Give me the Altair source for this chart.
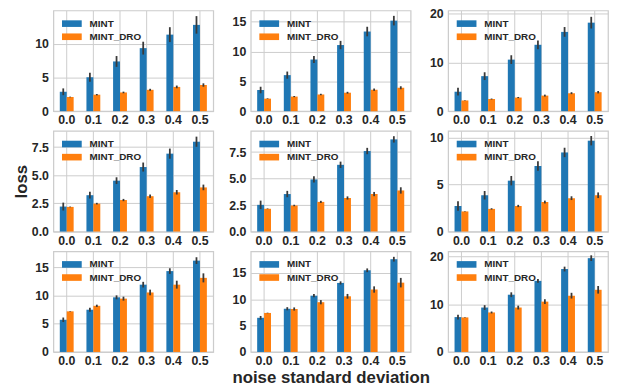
import altair as alt
import pandas as pd

noise = ["0.0", "0.1", "0.2", "0.3", "0.4", "0.5"]
series = ["MINT", "MINT_DRO"]

# panel 1 (row 1, col 1)
p1_mint = [2.87, 5.02, 7.36, 9.33, 11.33, 12.77]
p1_mint_err = [0.5, 0.65, 0.8, 0.95, 1.1, 1.3]
p1_dro = [2.1, 2.44, 2.77, 3.16, 3.59, 3.87]
p1_dro_err = [0.05, 0.1, 0.12, 0.15, 0.2, 0.25]
# panel 2
p2_mint = [3.55, 6.05, 8.67, 11.1, 13.37, 15.2]
p2_mint_err = [0.55, 0.6, 0.6, 0.7, 0.8, 0.8]
p2_dro = [2.1, 2.45, 2.8, 3.1, 3.6, 3.93]
p2_dro_err = [0.05, 0.1, 0.12, 0.15, 0.2, 0.25]
# panel 3
p3_mint = [4.0, 7.2, 10.6, 13.65, 16.3, 18.2]
p3_mint_err = [0.8, 0.8, 0.9, 0.9, 1.0, 1.2]
p3_dro = [2.2, 2.5, 2.8, 3.2, 3.7, 3.9]
p3_dro_err = [0.05, 0.1, 0.12, 0.2, 0.2, 0.25]
# panel 4
p4_mint = [2.22, 3.23, 4.52, 5.73, 6.92, 7.98]
p4_mint_err = [0.35, 0.3, 0.3, 0.4, 0.45, 0.45]
p4_dro = [2.19, 2.48, 2.8, 3.14, 3.49, 3.92]
p4_dro_err = [0.03, 0.07, 0.1, 0.15, 0.2, 0.25]
# panel 5
p5_mint = [2.52, 3.54, 4.92, 6.3, 7.6, 8.7]
p5_mint_err = [0.4, 0.3, 0.3, 0.3, 0.3, 0.3]
p5_dro = [2.15, 2.46, 2.8, 3.17, 3.54, 3.88]
p5_dro_err = [0.03, 0.07, 0.1, 0.15, 0.2, 0.3]
# panel 6
p6_mint = [2.72, 3.86, 5.41, 6.97, 8.41, 9.66]
p6_mint_err = [0.5, 0.45, 0.5, 0.5, 0.5, 0.5]
p6_dro = [2.14, 2.41, 2.72, 3.14, 3.55, 3.86]
p6_dro_err = [0.03, 0.07, 0.12, 0.15, 0.2, 0.3]
# panel 7
p7_mint = [5.69, 7.47, 9.66, 11.9, 14.3, 16.15]
p7_mint_err = [0.4, 0.35, 0.35, 0.5, 0.5, 0.6]
p7_dro = [7.18, 8.16, 9.43, 10.52, 11.9, 13.1]
p7_dro_err = [0.05, 0.2, 0.35, 0.5, 0.7, 0.8]
# panel 8
p8_mint = [6.48, 8.2, 10.68, 13.1, 15.5, 17.6]
p8_mint_err = [0.35, 0.3, 0.3, 0.3, 0.35, 0.45]
p8_dro = [7.4, 8.15, 9.44, 10.56, 11.85, 13.15]
p8_dro_err = [0.05, 0.3, 0.4, 0.45, 0.6, 0.9]
# panel 9
p9_mint = [7.31, 9.31, 12.0, 14.9, 17.38, 19.66]
p9_mint_err = [0.5, 0.5, 0.5, 0.4, 0.5, 0.6]
p9_dro = [7.24, 8.28, 9.31, 10.55, 11.8, 13.03]
p9_dro_err = [0.05, 0.2, 0.4, 0.5, 0.6, 0.8]

panels = [
    (p1_mint, p1_mint_err, p1_dro, p1_dro_err),
    (p2_mint, p2_mint_err, p2_dro, p2_dro_err),
    (p3_mint, p3_mint_err, p3_dro, p3_dro_err),
    (p4_mint, p4_mint_err, p4_dro, p4_dro_err),
    (p5_mint, p5_mint_err, p5_dro, p5_dro_err),
    (p6_mint, p6_mint_err, p6_dro, p6_dro_err),
    (p7_mint, p7_mint_err, p7_dro, p7_dro_err),
    (p8_mint, p8_mint_err, p8_dro, p8_dro_err),
    (p9_mint, p9_mint_err, p9_dro, p9_dro_err),
]

# axis extents and tick values per panel
y_max = [14.9, 16.9, 20.7, 8.94, 9.5, 10.7, 17.8, 19.1, 21.1]
y_ticks = [
    [0, 5, 10], [0, 5, 10, 15], [0, 10, 20],
    [0, 2.5, 5, 7.5], [0, 2.5, 5, 7.5], [0, 5, 10],
    [0, 5, 10, 15], [0, 5, 10, 15], [0, 10, 20],
]
y_fmt = ["d", "d", "d", ".1f", ".1f", "d", "d", "d", "d"]

FONT = "Liberation Sans"
TXT = "#262626"
W, H = 162, 102

color_scale = alt.Scale(domain=series, range=["#1f77b4", "#ff7f0e"])
x_scale = alt.Scale(paddingInner=0.48, paddingOuter=0.24)
legend_symbol = "M-2,-0.67L2,-0.67L2,0.67L-2,0.67Z"

charts = []
for i, (m, me, d, de) in enumerate(panels):
    rows = []
    for j, n in enumerate(noise):
        rows.append({"noise": n, "series": "MINT", "loss": m[j],
                     "lo": m[j] - me[j], "hi": m[j] + me[j]})
        rows.append({"noise": n, "series": "MINT_DRO", "loss": d[j],
                     "lo": d[j] - de[j], "hi": d[j] + de[j]})
    df = pd.DataFrame(rows)

    row, col = divmod(i, 3)
    y_title = "loss" if (row == 1 and col == 0) else None
    x_title = "noise standard deviation" if (row == 2 and col == 1) else None

    x_axis = alt.Axis(title=x_title, labelAngle=0, grid=True, bandPosition=0.5,
                      ticks=False, domain=False, labelPadding=3,
                      labelOverlap=False,
                      titleFontSize=17, titlePadding=2)
    y_axis = alt.Axis(title=y_title, values=y_ticks[i], format=y_fmt[i],
                      grid=True, ticks=False, domain=False, labelPadding=5,
                      labelOverlap=False,
                      titleFontSize=17, titlePadding=1)
    y_scale = alt.Scale(domain=[0, y_max[i]], nice=False)

    base = alt.Chart(df)
    bars = base.mark_bar().encode(
        x=alt.X("noise:N", sort=noise, scale=x_scale, axis=x_axis),
        xOffset=alt.XOffset("series:N", sort=series),
        y=alt.Y("loss:Q", scale=y_scale, axis=y_axis),
        color=alt.Color("series:N", scale=color_scale, sort=series,
                        legend=alt.Legend(title=None, orient="none",
                                          legendX=13.7, legendY=8.3,
                                          symbolType=legend_symbol,
                                          symbolSize=100,
                                          symbolStrokeWidth=0,
                                          labelOffset=13, rowPadding=3.3,
                                          padding=0)),
    )
    errs = base.mark_rule(color="#3a3a3a", strokeWidth=1.8).encode(
        x=alt.X("noise:N", sort=noise, scale=x_scale, axis=x_axis),
        xOffset=alt.XOffset("series:N", sort=series),
        y=alt.Y("lo:Q", scale=y_scale, axis=y_axis),
        y2="hi:Q",
    )
    charts.append(alt.layer(bars, errs).properties(width=W, height=H))

chart = alt.concat(
    *charts, columns=3, spacing={"row": 20, "column": 38}, bounds="flush"
).resolve_scale(
    y="independent", color="shared"
).resolve_legend(
    color="independent"
).properties(
    padding={"left": 3, "top": -4, "right": 0, "bottom": 0}
).configure(
    font=FONT
).configure_view(
    stroke="#cccccc", strokeWidth=1.25
).configure_axis(
    labelFont=FONT, labelFontSize=12.5, labelFontWeight="bold", labelColor=TXT,
    titleFont=FONT, titleFontWeight="bold", titleColor=TXT,
    gridColor="#cccccc", gridWidth=1, gridOpacity=1,
).configure_legend(
    labelFont=FONT, labelFontSize=10, labelFontWeight="bold", labelColor=TXT,
)

chart.save("out.html", embed_options={"renderer": "svg", "actions": False})
